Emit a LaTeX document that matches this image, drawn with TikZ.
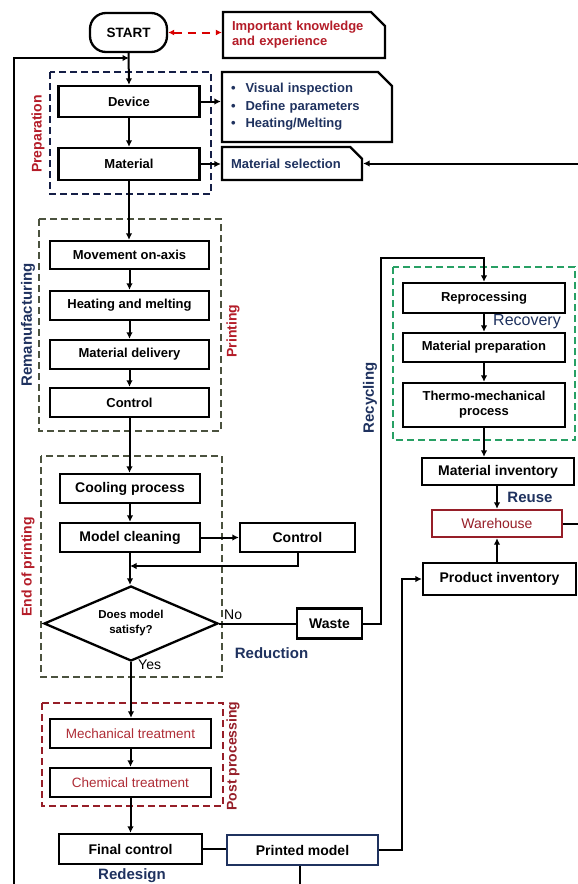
\documentclass[tikz,border=0pt]{standalone}
\usepackage{fontspec}
\setmainfont{Liberation Sans}
\usetikzlibrary{arrows.meta,shapes.geometric,shapes.misc}
\definecolor{lblred}{RGB}{180,28,40}
\definecolor{softred}{RGB}{175,45,55}
\definecolor{navy}{RGB}{31,50,95}
\definecolor{prepblue}{RGB}{20,30,70}
\definecolor{olive}{RGB}{75,82,62}
\definecolor{recgreen}{RGB}{40,160,100}
\definecolor{postred}{RGB}{150,30,40}
\begin{document}
\begin{tikzpicture}[x=1pt,y=-1pt,
  box/.style={draw,line width=2.3pt,inner sep=0pt,font=\bfseries\fontsize{13}{15}\selectfont},
  bigbox/.style={box,font=\bfseries\fontsize{14}{16}\selectfont},
  chbox/.style={draw,line width=2.3pt,chamfered rectangle,chamfered rectangle corners=north east,
     chamfered rectangle xsep=7pt,chamfered rectangle ysep=7pt,inner sep=0pt,align=left},
  dbox/.style={draw,line width=2pt,dash pattern=on 7pt off 4pt},
  conn/.style={line width=2pt},
  arr/.style={conn,-{Latex[length=6.5pt,width=6.5pt]}},
  vlbl/.style={rotate=90,font=\bfseries\fontsize{14}{16}\selectfont},
  cyc/.style={font=\bfseries\fontsize{15}{17}\selectfont,text=navy}]
\useasboundingbox[fill=white] (0,0) rectangle (578,884);

% dashed group frames
\draw[dbox,prepblue] (50,72) rectangle (211,194);
\draw[dbox,olive] (39,219) rectangle (221,431);
\draw[dbox,olive] (41,456) rectangle (222,677);
\draw[dbox,recgreen] (393,267) rectangle (575,440);
\draw[dbox,postred] (42,703) rectangle (223,806);

% top
\node[box,rounded corners=16pt,minimum width=77pt,minimum height=39pt,font=\bfseries\fontsize{13.5}{15}\selectfont] (start) at (128.5,32.5) {START};
\node[chbox,minimum width=162pt,minimum height=46pt,text width=144pt,text=lblred,
  font=\bfseries\fontsize{13}{15}\selectfont] (know) at (304,35) {Important knowledge\\and experience};
\node[chbox,minimum width=170pt,minimum height=70pt,text width=152pt,text=navy,
  font=\bfseries\fontsize{13}{17.5}\selectfont] (bullets) at (307,107)
  {\textbullet\hspace{10pt}Visual inspection\\\textbullet\hspace{10pt}Define parameters\\\textbullet\hspace{10pt}Heating/Melting};
\node[chbox,minimum width=140pt,minimum height=33pt,text width=122pt,text=navy,
  font=\bfseries\fontsize{13}{15}\selectfont] (matsel) at (292,163.5) {Material selection};

\node[box,minimum width=141pt,minimum height=31pt] (device) at (129,101.5) {Device};
\node[box,minimum width=141pt,minimum height=32pt] (material) at (129,164) {Material};

% printing
\node[box,minimum width=159pt,minimum height=28pt] (move) at (129.5,255) {Movement on-axis};
\node[box,minimum width=159pt,minimum height=29pt] (heat) at (129.5,305.5) {Heating and melting};
\node[box,minimum width=159pt,minimum height=29pt] (deliv) at (129.5,354.5) {Material delivery};
\node[box,minimum width=159pt,minimum height=29pt] (ctrla) at (129.5,402.5) {Control};

% end of printing
\node[bigbox,minimum width=140pt,minimum height=29pt] (cool) at (130,488.5) {Cooling process};
\node[bigbox,minimum width=140pt,minimum height=29pt] (clean) at (130,537.5) {Model cleaning};
\node[bigbox,minimum width=115pt,minimum height=29pt] (ctrlb) at (297.5,537.5) {Control};
\node[draw,diamond,shape aspect=2.3,line width=2.3pt,minimum width=174pt,minimum height=75pt,inner sep=0pt,align=center,
  font=\bfseries\fontsize{11.5}{15}\selectfont] (dec) at (131,623.5) {Does model\\satisfy?};
\node[bigbox,minimum width=65pt,minimum height=30pt] (waste) at (329.5,623.5) {Waste};
\node[font=\fontsize{14}{16}\selectfont,anchor=south west,inner sep=0pt] (no) at (224,620) {No};
\node[font=\fontsize{14}{16}\selectfont,anchor=west,inner sep=0pt] (yes) at (138,665) {Yes};
\node[cyc] (reduc) at (271.5,653) {Reduction};

% recovery
\node[box,minimum width=162pt,minimum height=30pt] (repro) at (484,298) {Reprocessing};
\node[cyc,font=\fontsize{16}{18}\selectfont] (recov) at (527,322) {Recovery};
\node[box,minimum width=162pt,minimum height=29pt] (prep) at (484,347.5) {Material preparation};
\node[box,minimum width=162pt,minimum height=44pt,align=center] (thermo) at (484,405) {Thermo-mechanical\\process};
\node[bigbox,minimum width=152pt,minimum height=27pt] (minv) at (498,471.5) {Material inventory};
\node[cyc] (reuse) at (530,497) {Reuse};
\node[draw=postred,line width=2.3pt,inner sep=0pt,minimum width=130pt,minimum height=27pt,text=postred,
  font=\fontsize{14}{16}\selectfont] (wh) at (497,523.5) {Warehouse};
\node[bigbox,minimum width=153pt,minimum height=32pt] (pinv) at (499.5,579) {Product inventory};

% post processing
\node[box,minimum width=161pt,minimum height=29pt,text=softred,font=\fontsize{13.5}{15}\selectfont] (mech) at (130.5,733.5) {Mechanical treatment};
\node[box,minimum width=161pt,minimum height=29pt,text=softred,font=\fontsize{13.5}{15}\selectfont] (chem) at (130.5,782.5) {Chemical treatment};
\node[bigbox,minimum width=143pt,minimum height=30pt] (final) at (130.5,849) {Final control};
\node[bigbox,draw=navy,minimum width=151pt,minimum height=30pt] (pm) at (302.5,850) {Printed model};
\node[cyc] (redes) at (132,876) {Redesign};

% vertical labels
\node[vlbl,text=lblred] (lprep) at (38,134) {Preparation};
\node[vlbl,text=navy,font=\bfseries\fontsize{15}{17}\selectfont] (lreman) at (28,325) {Remanufacturing};
\node[vlbl,text=lblred] (lprint) at (233,331) {Printing};
\node[vlbl,text=lblred] (lend) at (28,567) {End of printing};
\node[vlbl,text=postred] (lpost) at (233,756) {Post processing};
\node[vlbl,text=navy,font=\bfseries\fontsize{15}{17}\selectfont] (lrecy) at (370,398) {Recycling};

% helper coordinates
\coordinate (fbtop) at (129,58);
\coordinate (botL) at (14,884);
\coordinate (redge) at (578,0);
\coordinate (merge) at (130,566);
\coordinate (recx) at (381,258);
\coordinate (pmx) at (402,0);
\coordinate (pmbot) at (300,884);

% connectors
\draw[red!85!black,line width=2pt,dash pattern=on 8pt off 6pt,{Latex[length=6pt,width=6pt]}-{Latex[length=6pt,width=6pt]}]
  (start.east) -- (start.east -| know.west);
\draw[arr] (start.south) -- (device.north);
\draw[arr] (botL) |- (fbtop);
\draw[arr] (device.south) -- (material.north);
\draw[arr] (device.east) -- (device.east -| bullets.west);
\draw[arr] (material.east) -- (material.east -| matsel.west);
\draw[arr] (material.south) -- (material.south |- move.north);
\draw[arr] (move.south) -- (heat.north);
\draw[arr] (heat.south) -- (deliv.north);
\draw[arr] (deliv.south) -- (ctrla.north);
\draw[arr] (ctrla.south) -- (ctrla.south |- cool.north);
\draw[arr] (cool.south) -- (clean.north);
\draw[arr] (clean.east) -- (ctrlb.west);
\draw[arr] (ctrlb.south) |- (merge);
\draw[arr] (clean.south) -- (clean.south |- dec.north);
\draw[conn] (dec.east) -- (waste.west);
\draw[arr] (dec.south) -- (dec.south |- mech.north);
\draw[arr] (mech.south) -- (chem.north);
\draw[arr] (chem.south) -- (chem.south |- final.north);
\draw[conn] (final.east) -- (final.east -| pm.west);
\draw[conn] (pm.south -| pmbot) -- (pmbot);
\draw[arr] (pm.east) -- (pm.east -| pmx) |- (pinv.west);
\draw[arr] (waste.east) -| (recx) -| (repro.north);
\draw[arr] (repro.south) -- (prep.north);
\draw[arr] (prep.south) -- (thermo.north);
\draw[arr] (thermo.south) -- (thermo.south |- minv.north);
\draw[arr] (minv.south -| wh.north) -- (wh.north);
\draw[arr] (pinv.north -| wh.south) -- (wh.south);
\draw[conn] (wh.east) -- (wh.east -| redge);
\draw[arr] (matsel.east -| redge) -- (matsel.east);
\end{tikzpicture}
\end{document}
